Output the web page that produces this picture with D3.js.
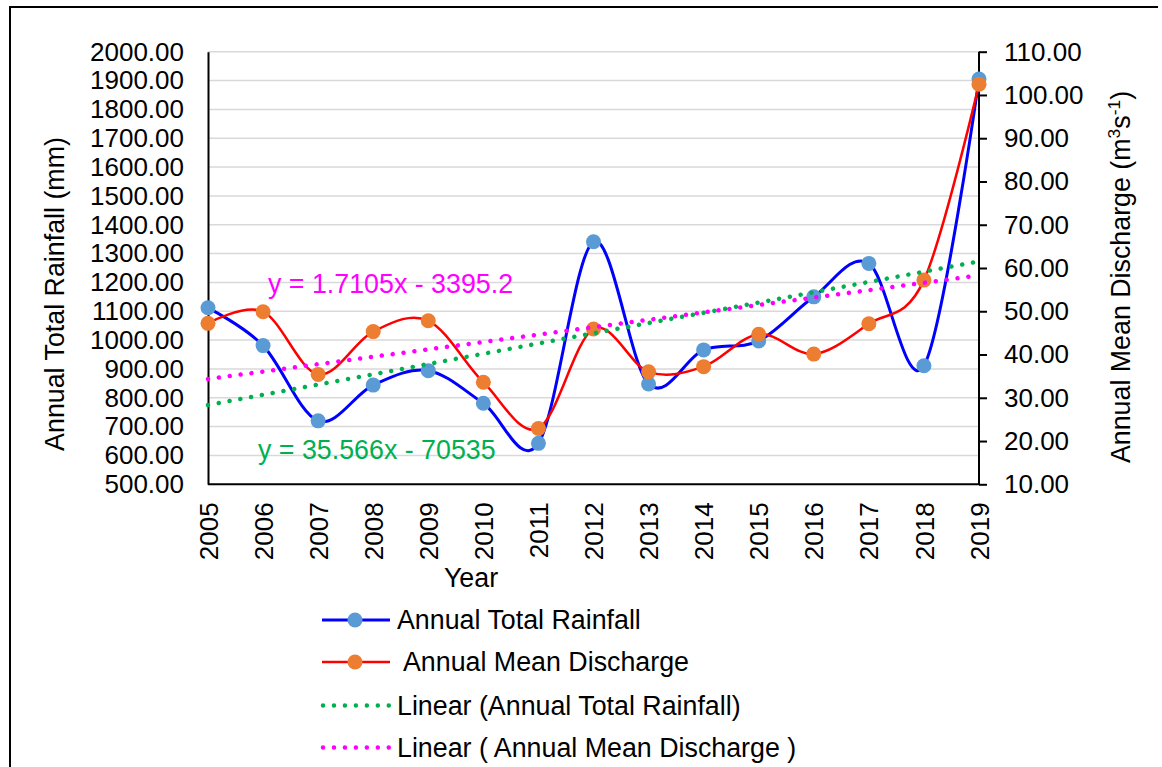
<!DOCTYPE html>
<html>
<head>
<meta charset="utf-8">
<script src="https://cdn.jsdelivr.net/npm/d3@7/dist/d3.min.js"></script>
<style>
html,body{margin:0;padding:0;background:#fff;}
svg{display:block;font-family:"Liberation Sans",Arial,sans-serif;}
</style>
</head>
<body>
<svg id="chart" width="1162" height="767"></svg>
<script>
const years = [2005,2006,2007,2008,2009,2010,2011,2012,2013,2014,2015,2016,2017,2018,2019];
const rainfall = [1112,981,720,844,894,781,642,1341,848,966,997,1150,1266,911,1905];
const discharge = [47.2,49.9,35.4,45.3,47.8,33.6,22.9,45.9,36.0,37.2,44.7,40.1,47.1,57.2,102.5];
const leftTicks = [500,600,700,800,900,1000,1100,1200,1300,1400,1500,1600,1700,1800,1900,2000];
const rightTicks = [10,20,30,40,50,60,70,80,90,100,110];
const rainTrend = [35.566, -70535];     // slope, intercept
const dischTrend = [1.7105, -3395.2];
const legendLabels = ["Annual Total Rainfall"," Annual Mean Discharge","Linear (Annual Total Rainfall)","Linear ( Annual Mean Discharge )"];

const svg = d3.select("#chart");
const FS = 26;      // tick labels
const FT = 26.8;    // other text
const L = 208, R = 979, T = 51.7, B = 484.3;

const x = d3.scalePoint().domain(years).range([L, R]);
const yL = d3.scaleLinear().domain([500,2000]).range([B, T]);
const yR = d3.scaleLinear().domain([10,110]).range([B, T]);

// outer frame
svg.append("path").attr("d","M10,800V7H1158").attr("fill","none").attr("stroke","#000").attr("stroke-width",2);

// gridlines
svg.append("g").selectAll("line").data(leftTicks.filter(d=>d>500)).join("line")
  .attr("x1",L).attr("x2",R).attr("y1",d=>yL(d)).attr("y2",d=>yL(d))
  .attr("stroke","#d9d9d9").attr("stroke-width",1.5);

// left axis
const gL = svg.append("g").attr("transform",`translate(${L},0)`)
  .call(d3.axisLeft(yL).tickValues(leftTicks).tickSize(0).tickPadding(24).tickFormat(d3.format(".2f")));
gL.select(".domain").attr("stroke","#000").attr("stroke-width",2);
gL.selectAll("text").attr("font-size",FS).attr("font-family","Liberation Sans, Arial, sans-serif").attr("fill","#000");

// right axis
const gR = svg.append("g").attr("transform",`translate(${R},0)`)
  .call(d3.axisRight(yR).tickValues(rightTicks).tickSize(8).tickPadding(17).tickFormat(d3.format(".2f")));
gR.select(".domain").attr("stroke","#000").attr("stroke-width",2).attr("d",`M0,${T}V${B}`);
gR.selectAll(".tick line").attr("stroke","#000").attr("stroke-width",2);
gR.selectAll("text").attr("font-size",FS).attr("font-family","Liberation Sans, Arial, sans-serif").attr("fill","#000");

// bottom axis
const gB = svg.append("g").attr("transform",`translate(0,${B})`)
  .call(d3.axisBottom(x).tickSize(0).tickPadding(0));
gB.select(".domain").attr("stroke","#000").attr("stroke-width",2).attr("d",`M${L},0H${R}`);
gB.selectAll("text").attr("font-size",FS).attr("font-family","Liberation Sans, Arial, sans-serif").attr("fill","#000")
  .attr("text-anchor","end").attr("transform","translate(0,18) rotate(-90)").attr("x",0).attr("y",0).attr("dy","0.35em");

// axis titles
svg.append("text").attr("transform","translate(64,294) rotate(-90)").attr("text-anchor","middle")
  .attr("font-size",FT).text("Annual Total Rainfall (mm)");
const rt = svg.append("text").attr("transform","translate(1130,277) rotate(-90)").attr("text-anchor","middle")
  .attr("font-size",FT);
rt.append("tspan").text("Annual Mean Discharge (m");
rt.append("tspan").attr("font-size",FT*0.65).attr("dy",-10).text("3");
rt.append("tspan").attr("dy",10).text("s");
rt.append("tspan").attr("font-size",FT*0.65).attr("dy",-10).text("-1");
rt.append("tspan").attr("dy",10).text(")");
svg.append("text").attr("x",471).attr("y",587).attr("text-anchor","middle").attr("font-size",FT).text("Year");

// series
const curve = d3.curveCatmullRom.alpha(0);
const lineL = d3.line().x((d,i)=>x(years[i])).y(d=>yL(d)).curve(curve);
const lineR = d3.line().x((d,i)=>x(years[i])).y(d=>yR(d)).curve(curve);

svg.append("path").datum(rainfall).attr("d",lineL).attr("fill","none").attr("stroke","#0000ff").attr("stroke-width",3);
svg.append("g").selectAll("circle").data(rainfall).join("circle")
  .attr("cx",(d,i)=>x(years[i])).attr("cy",d=>yL(d)).attr("r",7.5).attr("fill","#5b9bd5");

svg.append("path").datum(discharge).attr("d",lineR).attr("fill","none").attr("stroke","#ff0000").attr("stroke-width",2.5);
svg.append("g").selectAll("circle").data(discharge).join("circle")
  .attr("cx",(d,i)=>x(years[i])).attr("cy",d=>yR(d)).attr("r",7.5).attr("fill","#ed7d31");

// trendlines
const y0 = years[0], y1 = years[years.length-1];
function trend(coef, scale, color){
  const pts = [y0,y1].map(yr=>[x(yr), scale(coef[0]*yr+coef[1])]);
  svg.append("path").attr("d",d3.line()(pts)).attr("fill","none").attr("stroke",color)
    .attr("stroke-width",4.5).attr("stroke-linecap","round").attr("stroke-dasharray","0.01 10.95");
}
trend(rainTrend, yL, "#00b050");
trend(dischTrend, yR, "#ff00ff");

// equation labels
svg.append("text").attr("x",268).attr("y",293).attr("font-size",FT).attr("fill","#ff00ff").text("y = 1.7105x - 3395.2");
svg.append("text").attr("x",258).attr("y",459).attr("font-size",FT).attr("fill","#00b050").text("y = 35.566x - 70535");

// legend
const rows = [620,662,705.5,747.5];
const lg = svg.append("g");
legendLabels.forEach((lab,i)=>{
  const cy = rows[i];
  if(i<2){
    lg.append("line").attr("x1",322).attr("x2",390).attr("y1",cy).attr("y2",cy)
      .attr("stroke",i===0?"#0000ff":"#ff0000").attr("stroke-width",i===0?3:2.5);
    lg.append("circle").attr("cx",355).attr("cy",cy).attr("r",7.5).attr("fill",i===0?"#5b9bd5":"#ed7d31");
  } else {
    lg.append("line").attr("x1",323).attr("x2",389).attr("y1",cy).attr("y2",cy)
      .attr("stroke",i===2?"#00b050":"#ff00ff").attr("stroke-width",4.5)
      .attr("stroke-linecap","round").attr("stroke-dasharray","0.01 10.95");
  }
  lg.append("text").attr("x",397).attr("y",cy+9).attr("font-size",FT).attr("xml:space","preserve")
    .style("white-space","pre").text(lab);
});
</script>
</body>
</html>
